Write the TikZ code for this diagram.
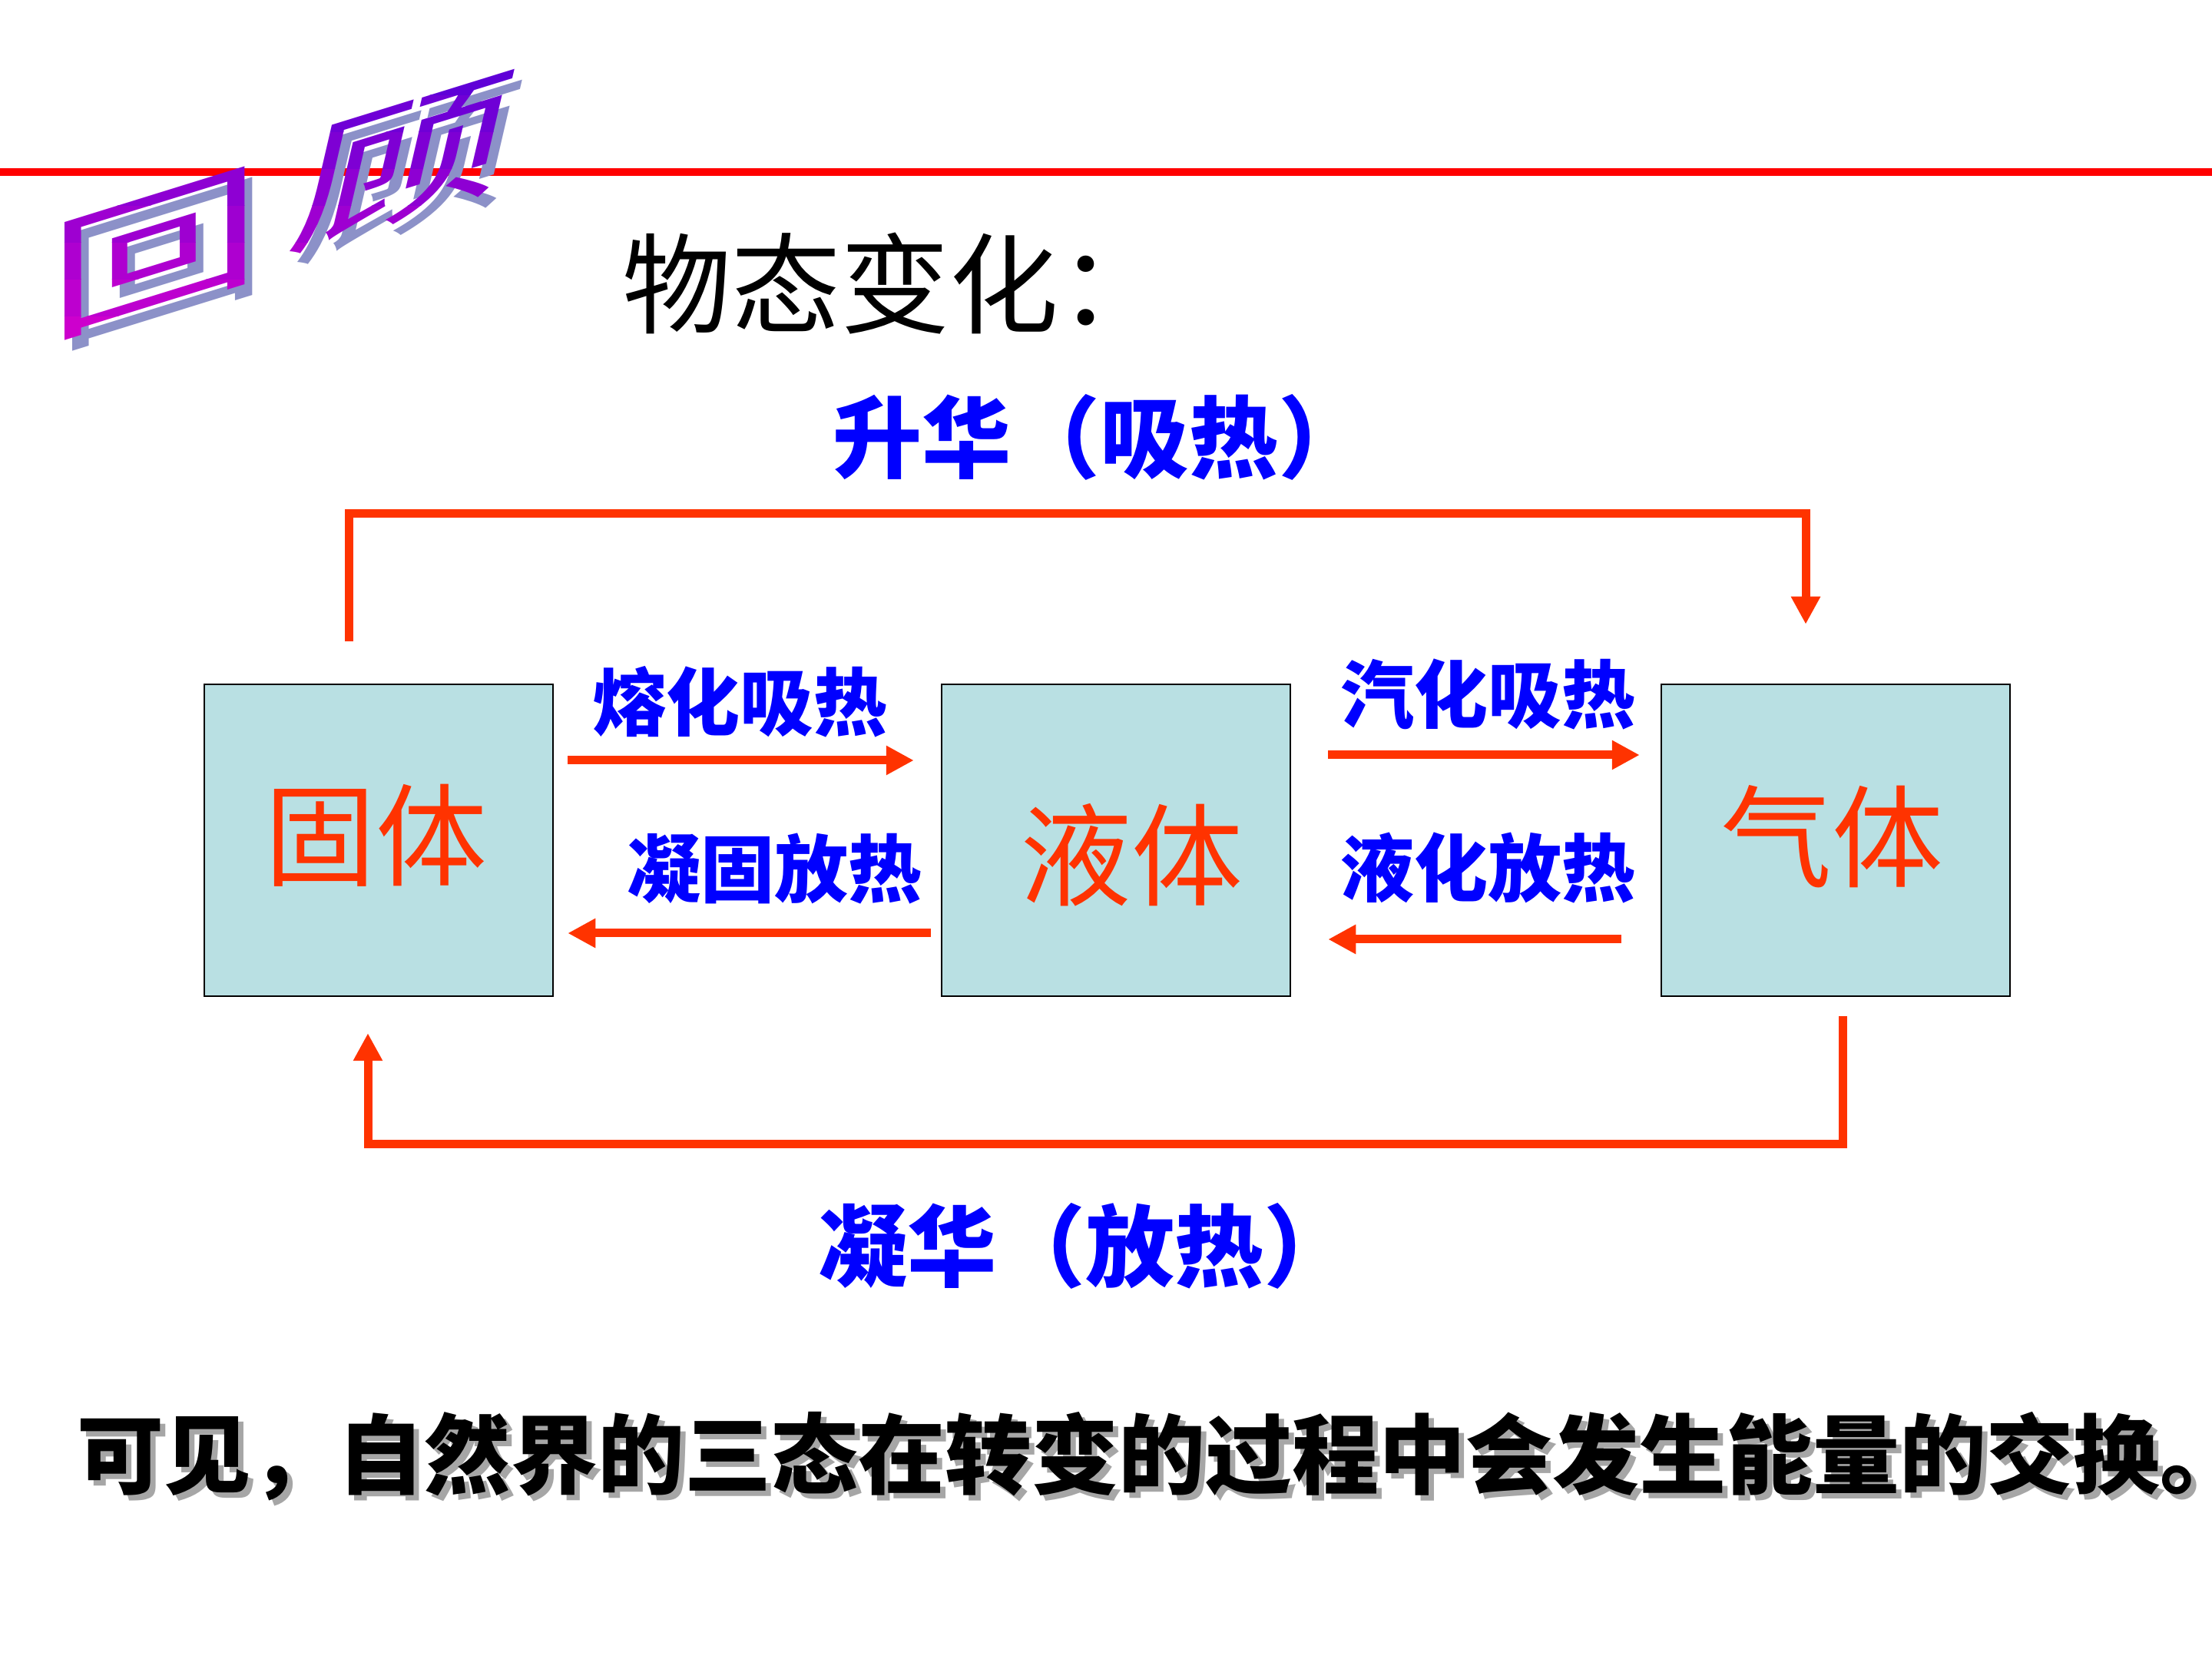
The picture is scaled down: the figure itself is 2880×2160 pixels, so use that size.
\documentclass[tikz,border=0pt]{standalone}
\usepackage{fontspec}
\newfontfamily\cjk{Noto Sans CJK SC}
\usetikzlibrary{arrows.meta}
\definecolor{boxcyan}{RGB}{185,224,227}
\definecolor{arrowred}{RGB}{255,51,0}
\definecolor{labelblue}{RGB}{0,0,255}
\definecolor{rulered}{RGB}{255,0,0}
\definecolor{wordtop}{RGB}{95,0,215}
\definecolor{wordbot}{RGB}{205,0,205}
\definecolor{wordshadow}{RGB}{140,145,200}
\tikzset{
  statebox/.style={draw=black,line width=2.5bp,fill=boxcyan,minimum width=454bp,minimum height=406bp,inner sep=0pt},
  statetext/.style={text=arrowred,font=\cjk\fontsize{145bp}{150bp}\selectfont,inner sep=0pt},
  heatlabel/.style={text=labelblue,font=\cjk\bfseries\fontsize{96bp}{100bp}\selectfont,inner sep=0pt},
  phaselabel/.style={text=labelblue,font=\cjk\bfseries\fontsize{116bp}{120bp}\selectfont,inner sep=0pt},
  flow/.style={draw=arrowred,line width=11bp,-{Triangle[length=36bp,width=36bp]}},
  wordart/.style={font=\cjk\fontsize{175bp}{175bp}\selectfont,inner sep=0pt,transform shape},
}
\begin{document}
\begin{tikzpicture}[>=latex,line join=miter]
\fill[white] (0bp,0bp) rectangle (2880bp,2160bp);
\useasboundingbox (0bp,0bp) rectangle (2880bp,2160bp);
%% rule and heading
\draw [rulered,line width=10bp] (0bp,1936bp) -- (2880bp,1936bp);
\begin{scope}[shift={(212bp,1816bp)},yslant=0.31,xscale=1.6]
  \node (hui_shadow) at (0,0) [wordart,text=wordshadow] {回};
\end{scope}
\begin{scope}[shift={(535bp,1934bp)},yslant=0.31,xslant=0.25,xscale=1.6]
  \node (gu_shadow) at (0,0) [wordart,text=wordshadow] {顾};
\end{scope}
\foreach \i in {0,...,7} {
  \pgfmathsetmacro{\ylo}{1700+\i*48}
  \pgfmathsetmacro{\yhi}{1748+\i*48}
  \pgfmathsetmacro{\mixval}{100*\i/7}
  \begin{scope}
    \clip (0bp,\ylo bp) rectangle (800bp,\yhi bp);
    \begin{scope}[shift={(202bp,1830bp)},yslant=0.31,xscale=1.6]
      \node (hui\i) at (0,0) [wordart,text=wordtop!\mixval!wordbot] {回};
    \end{scope}
    \begin{scope}[shift={(525bp,1948bp)},yslant=0.31,xslant=0.25,xscale=1.6]
      \node (gu\i) at (0,0) [wordart,text=wordtop!\mixval!wordbot] {顾};
    \end{scope}
  \end{scope}
}
\node (title) at (810.0bp,1791.0bp) [anchor=west,inner sep=0pt,font=\cjk\fontsize{142bp}{146bp}\selectfont] {物态变化：};
%% the three states
\node (solid) at (493.0bp,1066.0bp) [statebox] {};
\node (liquid) at (1453.0bp,1066.0bp) [statebox] {};
\node (gas) at (2390.0bp,1066.0bp) [statebox] {};
\node (solid_t) at (489.0bp,1072.0bp) [statetext] {固体};
\node (liquid_t) at (1473.0bp,1047.0bp) [statetext] {液体};
\node (gas_t) at (2385.0bp,1071.0bp) [statetext] {气体};
%% neighbouring changes
\node (melt) at (963.0bp,1246.0bp) [heatlabel] {熔化吸热};
\node (freeze) at (1008.0bp,1029.0bp) [heatlabel] {凝固放热};
\node (vapor) at (1937.0bp,1256.0bp) [heatlabel] {汽化吸热};
\node (liquefy) at (1937.0bp,1030.0bp) [heatlabel] {液化放热};
\draw [flow] ([shift={(18bp,104bp)}]solid.east) -- ([shift={(-35bp,104bp)}]liquid.west);
\draw [flow] ([shift={(-13bp,-121bp)}]liquid.west) -- ([shift={(18bp,-121bp)}]solid.east);
\draw [flow] ([shift={(48bp,111bp)}]liquid.east) -- ([shift={(-27bp,111bp)}]gas.west);
\draw [flow] ([shift={(-51bp,-129bp)}]gas.west) -- ([shift={(48bp,-129bp)}]liquid.east);
%% sublimation and deposition
\node (sublime) at (1432.0bp,1591.0bp) [phaselabel] {升华（吸热）};
\node (deposit) at (1413.0bp,538.0bp) [phaselabel] {凝华（放热）};
\draw [flow] ([shift={(-39bp,55bp)}]solid.north) |- ([shift={(-39bp,221bp)}]gas.north) -- ([shift={(-39bp,77bp)}]gas.north);
\draw [flow] ([shift={(9bp,-25bp)}]gas.south) |- ([shift={(-14bp,-191bp)}]solid.south) -- ([shift={(-14bp,-47bp)}]solid.south);
%% conclusion
\node (sum_shadow) at (107.0bp,257.0bp) [anchor=west,inner sep=0pt,text=black!35,font=\cjk\bfseries\fontsize{113bp}{116bp}\selectfont] {可见，自然界的三态在转变的过程中会发生能量的交换。\hspace{-0.6em}};
\node (sum) at (100.0bp,264.0bp) [anchor=west,inner sep=0pt,font=\cjk\bfseries\fontsize{113bp}{116bp}\selectfont] {可见，自然界的三态在转变的过程中会发生能量的交换。\hspace{-0.6em}};
%
\end{tikzpicture}
\end{document}
